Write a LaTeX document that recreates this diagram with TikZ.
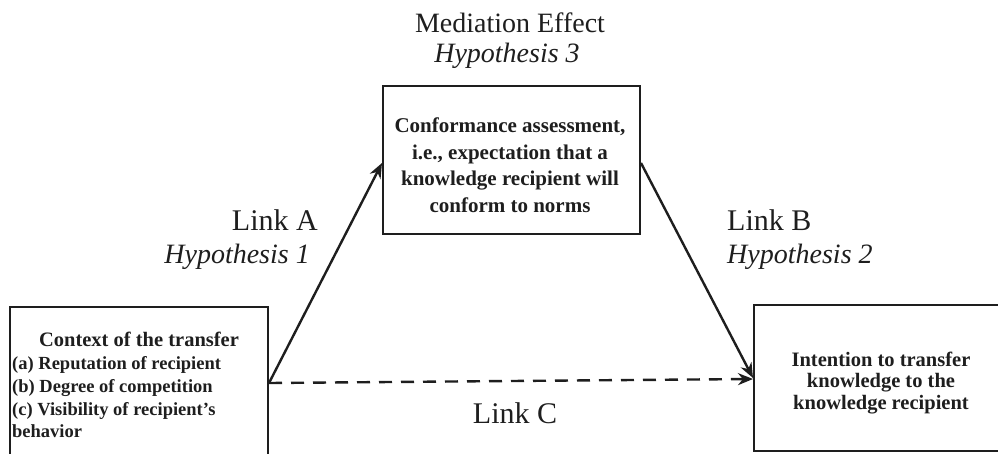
\documentclass[tikz,border=0pt]{standalone}
\usepackage{fontspec}
\setmainfont{Liberation Serif}
\usetikzlibrary{arrows.meta}
\definecolor{ink}{HTML}{1E1E1E}
\tikzset{
  boxshape/.style={draw=ink, line width=2pt, rectangle, inner sep=0pt},
  boxtext/.style={text=ink, font=\bfseries\fontsize{21}{26.5}\selectfont, align=center, inner sep=0pt},
  linklabel/.style={text=ink, font=\fontsize{30}{36}\selectfont, inner sep=0pt},
  hyplabel/.style={text=ink, font=\itshape\fontsize{28}{34}\selectfont, inner sep=0pt},
  arr/.style={draw=ink, line width=2.4pt, -{Stealth[length=15pt,width=12pt]}},
  dasharr/.style={arr, dash pattern=on 13pt off 9pt}
}
\begin{document}
\begin{tikzpicture}[x=1pt,y=-1pt]
\useasboundingbox (0,0) rectangle (998,453);
\clip (0,0) rectangle (998,453);
% boxes
\node[boxshape, minimum width=257pt, minimum height=148pt, anchor=north west] (mid) at (382,85) {};
\node[boxshape, minimum width=258pt, minimum height=150pt, anchor=north west] (left) at (9,306) {};
\node[boxshape, minimum width=260pt, minimum height=146pt, anchor=north west] (right) at (753,304) {};
% box texts
\node[boxtext] (midtext) at (510,165) {Conformance assessment,\\ i.e., expectation that a\\ knowledge recipient will\\ conform to norms};
\node[boxtext, font=\bfseries\fontsize{20.5}{21.5}\selectfont] (righttext) at (881,383) {Intention to transfer\\ knowledge to the\\ knowledge recipient};
\node[boxtext, font=\bfseries\fontsize{20.5}{24}\selectfont, anchor=base] (lefthead) at (139,346) {Context of the transfer};
\node[boxtext, font=\bfseries\fontsize{18.5}{22.7}\selectfont, align=left, anchor=north west] (leftitems) at (12,356.5) {(a) Reputation of recipient\\ (b) Degree of competition\\ (c) Visibility of recipient’s\\ behavior};
% labels
\node[linklabel, font=\fontsize{28}{34}\selectfont, anchor=base] (medeff) at (510,32) {Mediation Effect};
\node[hyplabel, anchor=base] (hyp3) at (507,62) {Hypothesis 3};
\node[linklabel, anchor=base east] (linka) at (318,230) {Link A};
\node[hyplabel, anchor=base east] (hyp1) at (310,263) {Hypothesis 1};
\node[linklabel, anchor=base west] (linkb) at (727,230) {Link B};
\node[hyplabel, anchor=base west] (hyp2) at (727,263) {Hypothesis 2};
\node[linklabel, anchor=base] (linkc) at (515,423) {Link C};
% connectors
\draw[arr] ([yshift=-1pt]left.east) -- ([yshift=-3pt]mid.west);
\draw[arr] ([yshift=-3pt]mid.east) -- (right.west);
\draw[dasharr] ([yshift=-1pt]left.east) -- ([yshift=-1pt]right.west);
\end{tikzpicture}
\end{document}
